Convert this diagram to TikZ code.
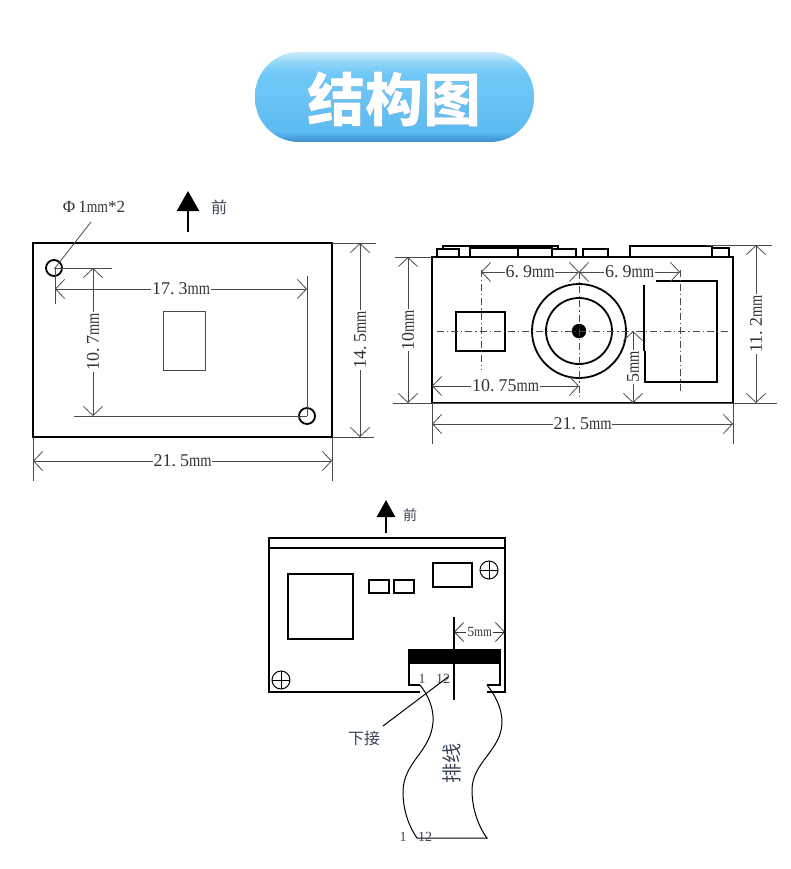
\documentclass[tikz,border=0pt]{standalone}
\usepackage{fontspec}
\setmainfont{Liberation Serif}
\newfontfamily\mmfont[FakeStretch=0.8]{Liberation Serif}
\newfontfamily\cjk{Noto Sans CJK SC}
\usetikzlibrary{arrows.meta}
\newcommand{\mmunit}{{\mmfont mm}}
\definecolor{pillC}{HTML}{3A8FCB}
\definecolor{pillM}{HTML}{5DBBF0}
\definecolor{pillN}{HTML}{6CC6F6}
\definecolor{pillT}{HTML}{8ED4F8}
\definecolor{pillL}{HTML}{CDEBFC}
\definecolor{inkgray}{HTML}{4A4A4A}
\definecolor{bluegray}{HTML}{3A4658}
\pgfdeclareverticalshading{pillshade}{100bp}{color(0bp)=(pillC); color(25bp)=(pillC); color(31bp)=(pillM); color(55bp)=(pillN); color(62bp)=(pillN); color(69bp)=(pillT); color(75bp)=(pillL); color(100bp)=(pillL)}
\tikzset{
    part/.style={draw=black,line width=1.8pt},
    thinpart/.style={draw=black,line width=1.0pt},
    boardpart/.style={draw=black,line width=1.4pt},
    dimline/.style={draw=inkgray,line width=0.8pt,{Straight Barb[length=9pt,width=19pt]}-{Straight Barb[length=9pt,width=19pt]}},
    extline/.style={draw=inkgray,line width=0.8pt},
    centerline/.style={draw=inkgray,line width=0.7pt,dash pattern=on 7pt off 3pt on 1.2pt off 3pt},
    dimlabel/.style={fill=white,inner sep=1pt,text=black!80,font=\fontsize{18}{18}\selectfont},
    smalllabel/.style={inner sep=0pt,text=bluegray,font=\fontsize{14}{14}\selectfont},
    cnlabel/.style={inner sep=0pt,text=bluegray,font=\cjk\fontsize{16}{16}\selectfont},
    frontarrow/.style={draw=black,line width=2.5pt,-{Triangle[length=20pt,width=22pt]}}
}
\begin{document}
\begin{tikzpicture}[x=1pt,y=-1pt]
    \useasboundingbox (0,0) rectangle (790,869);

    % title
    \shade [shading=pillshade,rounded corners=44pt] (255,52) rectangle (534,142);
    \draw (394.8,99.8) node (titleshadow) [inner sep=0pt,text=pillC!80!black,font=\cjk\bfseries\fontsize{58}{58}\selectfont] {结构图};
    \draw (394,99) node (title) [inner sep=0pt,text=white,font=\cjk\bfseries\fontsize{58}{58}\selectfont] {结构图};

    % bottom view
    \draw [part] (33,243) rectangle (332,437);
    \draw [extline] (163,311) rectangle (205,370);
    \draw [part] (54,268) circle (8);
    \draw [part] (307,416) circle (8);
    \draw (188,232) coordinate (arrowA);
    \draw (188,191) coordinate (arrowB);
    \draw [frontarrow] (arrowA) to (arrowB);
    \draw (219,207) node (frontA) [cnlabel] {前};
    \draw (94,207) node (holeLabel) [inner sep=0pt,text=black!80,font=\fontsize{17}{17}\selectfont] {Φ\kern3pt 1\mmunit*2};
    \draw (91,222) coordinate (holeLeader);
    \draw (55,268) coordinate (holeA);
    \draw [extline] (holeLeader) to (holeA);

    \draw [extline] (55,268) to (55,304);
    \draw [extline] (307,276) to (307,416);
    \draw [extline] (54,268) to (112,268);
    \draw [extline,line width=1pt] (74,416) to (307,416);
    \draw [extline] (332,243) to (376,243);
    \draw [extline] (332,437) to (374,437);
    \draw [extline] (33,437) to (33,481);
    \draw [extline] (332,437) to (332,481);

    \draw [dimline] (55,289) to node [dimlabel] {17.\kern4pt 3\mmunit} (307,289);
    \draw [dimline] (93,268) to node [dimlabel,rotate=90] {10.\kern4pt 7\mmunit} (93,416);
    \draw [dimline] (360,243) to node [dimlabel,rotate=90] {14.\kern4pt 5\mmunit} (360,437);
    \draw [dimline] (33,461) to node [dimlabel] {21.\kern4pt 5\mmunit} (332,461);

    % side view
    \draw [part] (432,257) rectangle (733,403);
    \draw [boardpart] (437,257) |- (459,249) -- (459,257);
    \draw [boardpart] (443,249) |- (558,246) -- (558,249);
    \draw [boardpart] (470,257) |- (552,248) -- (552,257);
    \draw [boardpart] (518,248) -- (518,257);
    \draw [boardpart] (552,249) -| (576,257);
    \draw [boardpart] (583,257) |- (608,249) -- (608,257);
    \draw [boardpart] (630,257) |- (712,246) -- (712,257);
    \draw [boardpart] (712,248) -| (729,257);

    \draw [part] (456,312) rectangle (505,351);
    \draw [part] (579,331) circle (47);
    \draw [part] (579,331) circle (33);
    \draw [fill=black] (579,331) circle (7);
    \draw [part] (656,281) -| (717,382) -| (645,351);
    \draw [part] (644,285) to (644,351);

    \draw [centerline] (437,331) to (728,331);
    \draw [centerline] (579,272) to (579,397);
    \draw [centerline] (481,270) to (481,370);
    \draw [centerline] (680,270) to (680,393);

    \draw [extline] (395,257) to (432,257);
    \draw [extline,line width=1pt] (393,403) to (777,403);
    \draw [extline] (707,245) to (772,245);
    \draw [extline] (432,403) to (432,444);
    \draw [extline] (733,403) to (733,444);

    \draw [dimline] (408,257) to node [dimlabel,rotate=90] {10\mmunit} (408,403);
    \draw [dimline] (756,245) to node [dimlabel,rotate=90] {11.\kern4pt 2\mmunit} (756,403);
    \draw [dimline] (432,424) to node [dimlabel] {21.\kern4pt 5\mmunit} (733,424);
    \draw [dimline] (432,386) to node [dimlabel] {10.\kern4pt 75\mmunit} (579,386);
    \draw [dimline] (481,272) to node [dimlabel] {6.\kern4pt 9\mmunit} (579,272);
    \draw [dimline] (579,272) to node [dimlabel] {6.\kern4pt 9\mmunit} (680,272);
    \draw [dimline] (633,331) to node [dimlabel,rotate=90] {5\mmunit} (633,403);

    % top view
    \draw [boardpart] (269,538) rectangle (505,692);
    \draw [boardpart] (269,548) to (505,548);
    \draw (386,533) coordinate (arrowC);
    \draw (386,500) coordinate (arrowD);
    \draw [frontarrow,-{Triangle[length=17pt,width=18pt]}] (arrowC) to (arrowD);
    \draw (410,515) node (frontB) [cnlabel,font=\cjk\fontsize{14}{14}\selectfont] {前};

    \draw [boardpart] (288,574) rectangle (353,639);
    \draw [boardpart] (369,580) rectangle (389,593);
    \draw [boardpart] (394,580) rectangle (414,593);
    \draw [boardpart] (433,563) rectangle (472,587);
    \foreach \cx/\cy in {489/570,281/680} {
        \draw [thinpart] (\cx,\cy) circle (9);
        \draw [thinpart] (\cx-9,\cy) to (\cx+9,\cy);
        \draw [thinpart] (\cx,\cy-9) to (\cx,\cy+9);
    }

    % connector and ribbon
    \draw [boardpart,fill=white] (420,685) -| (409,650) -| (500,685) -- (487,685);
    \draw [fill=black] (409,650) rectangle (500,663);
    \draw [fill=white,draw=none] (420,685) rectangle (487,694);
    \draw [thinpart] (420,685) .. controls (428,695) and (434,708) .. (433,722)
        .. controls (431,752) and (403,762) .. (403,792)
        .. controls (403,812) and (410,828) .. (417,838) -- (487,838)
        .. controls (478,826) and (472,808) .. (472,790)
        .. controls (472,762) and (502,750) .. (502,722)
        .. controls (502,708) and (495,695) .. (487,685);
    \draw [thinpart,line width=1.2pt] (454,617) to (454,700);
    \draw [dimline,draw=black!80] (454,632) to node [dimlabel,font=\fontsize{14}{14}\selectfont] {5\mmunit} (505,632);

    \draw (422,679) node (pinA) [smalllabel] {1};
    \draw (443,679) node (pinB) [smalllabel] {12};
    \draw (403,837) node (pinC) [smalllabel] {1};
    \draw (425,837) node (pinD) [smalllabel] {12};
    \draw (364,738) node (downLabel) [cnlabel] {下接};
    \draw (452,763) node (ribbonLabel) [cnlabel,rotate=90,font=\cjk\fontsize{20}{20}\selectfont] {排线};
    \draw (448,677) coordinate (leaderA);
    \draw (383,726) coordinate (leaderB);
    \draw [thinpart] (leaderA) to (leaderB);
\end{tikzpicture}
\end{document}
